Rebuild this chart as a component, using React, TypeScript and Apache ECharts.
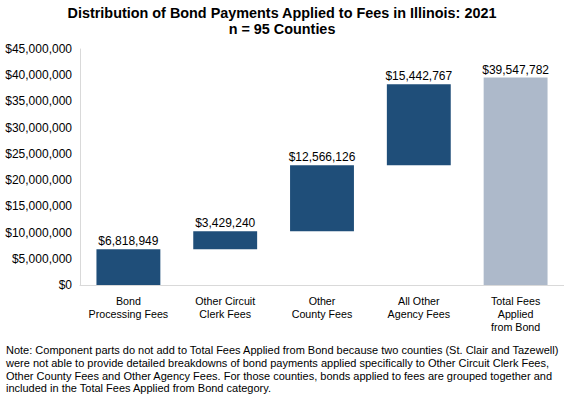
import React, { useEffect, useRef } from "react";
import * as echarts from "echarts";

const categories = [
  "Bond\nProcessing Fees",
  "Other Circuit\nClerk Fees",
  "Other\nCounty Fees",
  "All Other\nAgency Fees",
  "Total Fees\nApplied\nfrom Bond",
];
const componentValues = [6818949, 3429240, 12566126, 15442767];
const totalValue = 39547782;
const yTicks = { min: 0, max: 45000000, interval: 5000000 };

const titleText = "Distribution of Bond Payments Applied to Fees in Illinois: 2021\nn = 95 Counties";
const noteText =
  "Note: Component parts do not add to Total Fees Applied from Bond because two counties (St. Clair and Tazewell)\n" +
  "were not able to provide detailed breakdowns of bond payments applied specifically to Other Circuit Clerk Fees,\n" +
  "Other County Fees and Other Agency Fees. For those counties, bonds applied to fees are grouped together and\n" +
  "included in the Total Fees Applied from Bond category.";

const FONT = "'Liberation Sans', Arial, sans-serif";
const fmt = (v: number) => "$" + v.toLocaleString("en-US");

export default function App() {
  const ref = useRef<HTMLDivElement>(null);
  useEffect(() => {
    if (!ref.current) return;
    const chart = echarts.init(ref.current, null, { renderer: "svg" });
    const bases: number[] = [];
    let acc = 0;
    componentValues.forEach((v) => {
      bases.push(acc);
      acc += v;
    });
    const baseData = [...bases, 0];
    const visData = [
      ...componentValues.map((v) => ({ value: v, itemStyle: { color: "#1F4E79" } })),
      { value: totalValue, itemStyle: { color: "#ADB9CA" } },
    ];
    chart.setOption({
      animation: false,
      textStyle: { fontFamily: FONT },
      title: {
        text: titleText,
        left: "center",
        top: 5,
        padding: 0,
        textStyle: { fontFamily: FONT, fontSize: 14.4, fontWeight: "bold", color: "#000", lineHeight: 16 },
      },
      grid: { left: 80, top: 49, width: 487, height: 236, containLabel: false },
      xAxis: {
        type: "category",
        data: categories,
        axisLine: { lineStyle: { color: "#D9D9D9", width: 1 } },
        axisTick: { show: false },
        axisLabel: {
          interval: 0,
          fontFamily: FONT,
          fontSize: 10.7,
          color: "#000",
          lineHeight: 12.8,
          margin: 10,
        },
      },
      yAxis: {
        type: "value",
        min: yTicks.min,
        max: yTicks.max,
        interval: yTicks.interval,
        axisLine: { show: true, lineStyle: { color: "#D9D9D9", width: 1 } },
        axisTick: { show: false },
        splitLine: { show: false },
        axisLabel: {
          fontFamily: FONT,
          fontSize: 12,
          color: "#000",
          margin: 8,
          formatter: (v: number) => fmt(v),
        },
      },
      series: [
        {
          type: "bar",
          stack: "w",
          data: baseData,
          itemStyle: { color: "transparent" },
          emphasis: { disabled: true },
          silent: true,
          barWidth: "66%",
        },
        {
          type: "bar",
          stack: "w",
          data: visData,
          barWidth: "66%",
          label: {
            show: true,
            position: "top",
            distance: 2,
            fontFamily: FONT,
            fontSize: 12,
            color: "#000",
            formatter: (p: any) => fmt(p.value),
          },
        },
      ],
      graphic: [
        {
          type: "text",
          left: 6,
          top: 344,
          style: {
            text: noteText,
            fontFamily: FONT,
            fontSize: 11,
            lineHeight: 12.6,
            fill: "#000",
          },
        },
      ],
    });
    return () => chart.dispose();
  }, []);
  return <div ref={ref} style={{ width: 564, height: 399, position: "absolute", left: 0, top: 0 }} />;
}
